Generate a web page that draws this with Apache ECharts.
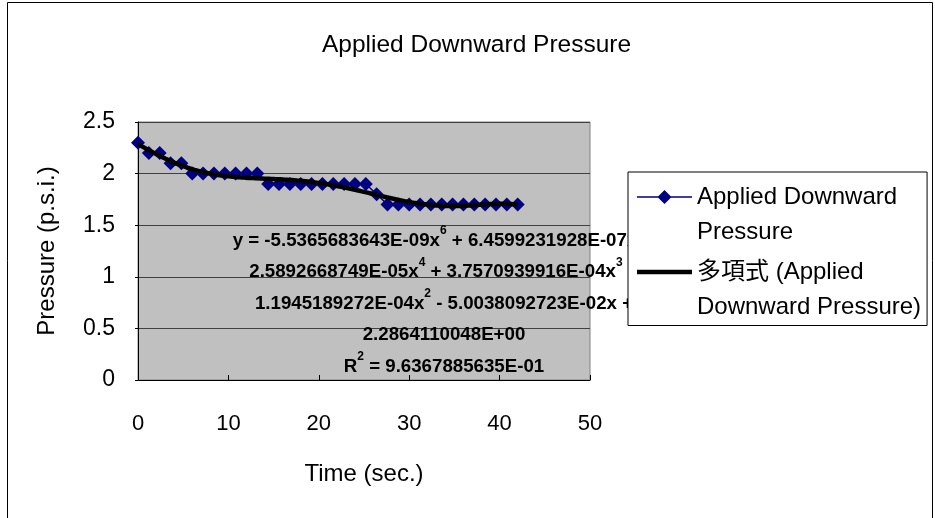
<!DOCTYPE html>
<html>
<head>
<meta charset="utf-8">
<script src="https://cdn.jsdelivr.net/npm/echarts@6/dist/echarts.min.js"></script>
<style>
  html, body { margin: 0; padding: 0; background: #fff; }
  #chart { width: 935px; height: 518px; }
</style>
</head>
<body>
<div id="chart"></div>
<script>
// Measured samples: time (s) and applied downward pressure (p.s.i.)
const timeSec = [0, 1.2, 2.4, 3.6, 4.8, 6, 7.2, 8.4, 9.6, 10.8, 12, 13.2, 14.4, 15.6, 16.8, 18,
  19.2, 20.4, 21.6, 22.8, 24, 25.2, 26.4, 27.6, 28.8, 30, 31.2, 32.4, 33.6, 34.8, 36, 37.2,
  38.4, 39.6, 40.8, 42];
const pressurePsi = [2.3, 2.2, 2.2, 2.1, 2.1, 2.0, 2.0, 2.0, 2.0, 2.0, 2.0, 2.0, 1.9, 1.9, 1.9, 1.9,
  1.9, 1.9, 1.9, 1.9, 1.9, 1.9, 1.8, 1.7, 1.7, 1.7, 1.7, 1.7, 1.7, 1.7, 1.7, 1.7,
  1.7, 1.7, 1.7, 1.7];

// 6th-order polynomial trend, coefficients c0..c6 (as printed in the equation label)
const trendCoefficients = [2.2864110048, -5.0038092723E-02, 1.1945189272E-04, 3.7570939916E-04,
  -2.5892668749E-05, 6.4599231928E-07, -5.5365683643E-09];
const rSquared = '9.6367885635E-01';

const xTicks = [0, 10, 20, 30, 40, 50];
const yTicks = [0, 0.5, 1, 1.5, 2, 2.5];

const seriesName = 'Applied Downward Pressure';
const trendName = '多項式 (Applied Downward Pressure)';

const FONT = '"Liberation Sans", Arial, "Noto Sans CJK TC", sans-serif';

function trendValue(x) {
  let y = 0;
  for (let k = trendCoefficients.length - 1; k >= 0; k--) y = y * x + trendCoefficients[k];
  return y;
}

const measured = timeSec.map((t, i) => [t, pressurePsi[i]]);
const trend = [];
const tEnd = timeSec[timeSec.length - 1];
for (let t = timeSec[0]; t <= tEnd + 1e-9; t += 0.25) trend.push([t, trendValue(t)]);

const chart = echarts.init(document.getElementById('chart'), null, { renderer: 'canvas' });

const eqStyle = { fontFamily: FONT, fontWeight: 'bold', fontSize: 18.7, lineHeight: 31.5, color: '#000' };
const supStyle = { fontFamily: FONT, fontWeight: 'bold', fontSize: 12, lineHeight: 22, verticalAlign: 'top', color: '#000' };

// Trend equation, wrapped over several centred lines
const equationText = [
  '{n|y = -5.5365683643E-09x}{s|6}{n| + 6.4599231928E-07x}{s|5}{n| -}',
  '{n|2.5892668749E-05x}{s|4}{n| + 3.7570939916E-04x}{s|3}{n| +}',
  '{n|1.1945189272E-04x}{s|2}{n| - 5.0038092723E-02x +}',
  '{n|2.2864110048E+00}',
  '{n|R}{s|2}{n| = ' + rSquared + '}'
].join('\n');

chart.setOption({
  animation: false,
  backgroundColor: '#fff',
  textStyle: { fontFamily: FONT },
  title: {
    text: 'Applied Downward Pressure',
    left: 322,
    top: 33,
    padding: 0,
    textStyle: { fontFamily: FONT, fontSize: 24.5, fontWeight: 'normal', color: '#000' }
  },
  grid: {
    left: 138, top: 122, right: 345, bottom: 138,
    show: true,
    backgroundColor: '#c0c0c0',
    borderColor: '#808080',
    borderWidth: 1
  },
  legend: {
    left: 628,
    top: 172,
    orient: 'vertical',
    padding: [7.5, 6, 1, 9],
    itemWidth: 55,
    itemHeight: 70,
    itemGap: 5,
    borderColor: '#000',
    borderWidth: 1,
    backgroundColor: '#fff',
    z: 10,
    selectedMode: false,
    textStyle: { fontFamily: FONT, fontSize: 24, lineHeight: 35, color: '#000' },
    formatter: function (name) {
      return name === seriesName ? 'Applied Downward\nPressure' : '多項式 (Applied\nDownward Pressure)';
    },
    data: [
      { name: seriesName, icon: 'path://M0,0M55,70M0,16.75L55,16.75L55,18.25L0,18.25ZM27.5,10.5L34.5,17.5L27.5,24.5L20.5,17.5Z' },
      { name: trendName, icon: 'path://M0,0M55,70M0,15.25L55,15.25L55,19.75L0,19.75Z' }
    ]
  },
  xAxis: {
    type: 'value',
    min: xTicks[0],
    max: xTicks[xTicks.length - 1],
    interval: 10,
    name: 'Time (sec.)',
    nameLocation: 'middle',
    nameGap: 82,
    nameTextStyle: { fontFamily: FONT, fontSize: 24, color: '#000' },
    axisLine: { show: true, onZero: false, lineStyle: { color: '#000', width: 1 } },
    axisTick: { show: true, inside: true, length: 5, lineStyle: { color: '#000' } },
    axisLabel: { margin: 33, fontFamily: FONT, fontSize: 22, color: '#000' },
    splitLine: { show: false }
  },
  yAxis: {
    type: 'value',
    min: yTicks[0],
    max: yTicks[yTicks.length - 1],
    interval: 0.5,
    name: 'Pressure (p.s.i.)',
    nameLocation: 'middle',
    nameGap: 79,
    nameTextStyle: { fontFamily: FONT, fontSize: 24, color: '#000' },
    axisLine: { show: true, lineStyle: { color: '#000', width: 1 } },
    axisTick: { show: true, inside: false, length: 3, lineStyle: { color: '#000' } },
    axisLabel: { margin: 23, fontFamily: FONT, fontSize: 23, color: '#000' },
    splitLine: { show: true, lineStyle: { color: '#404040', width: 1 } }
  },
  graphic: [
    {
      type: 'rect',
      z: -10,
      silent: true,
      shape: { x: 7.5, y: 2.5, width: 925, height: 540 },
      style: { fill: 'none', stroke: '#000', lineWidth: 1 }
    },
    {
      type: 'text',
      z: 3,
      silent: true,
      x: 444,
      y: 225,
      style: {
        text: equationText,
        align: 'center',
        verticalAlign: 'top',
        fontFamily: FONT,
        fontWeight: 'bold',
        fontSize: 18.7,
        lineHeight: 31.5,
        fill: '#000',
        rich: { n: eqStyle, s: supStyle }
      }
    }
  ],
  series: [
    {
      name: seriesName,
      type: 'line',
      data: measured,
      symbol: 'diamond',
      symbolSize: [14, 14],
      lineStyle: { color: '#000080', width: 1.5 },
      itemStyle: { color: '#000080' },
      z: 2
    },
    {
      name: trendName,
      type: 'line',
      data: trend,
      showSymbol: false,
      symbol: 'none',
      smooth: false,
      lineStyle: { color: '#000', width: 4.5 },
      itemStyle: { color: '#000' },
      z: 3
    }
  ]
});
</script>
</body>
</html>
